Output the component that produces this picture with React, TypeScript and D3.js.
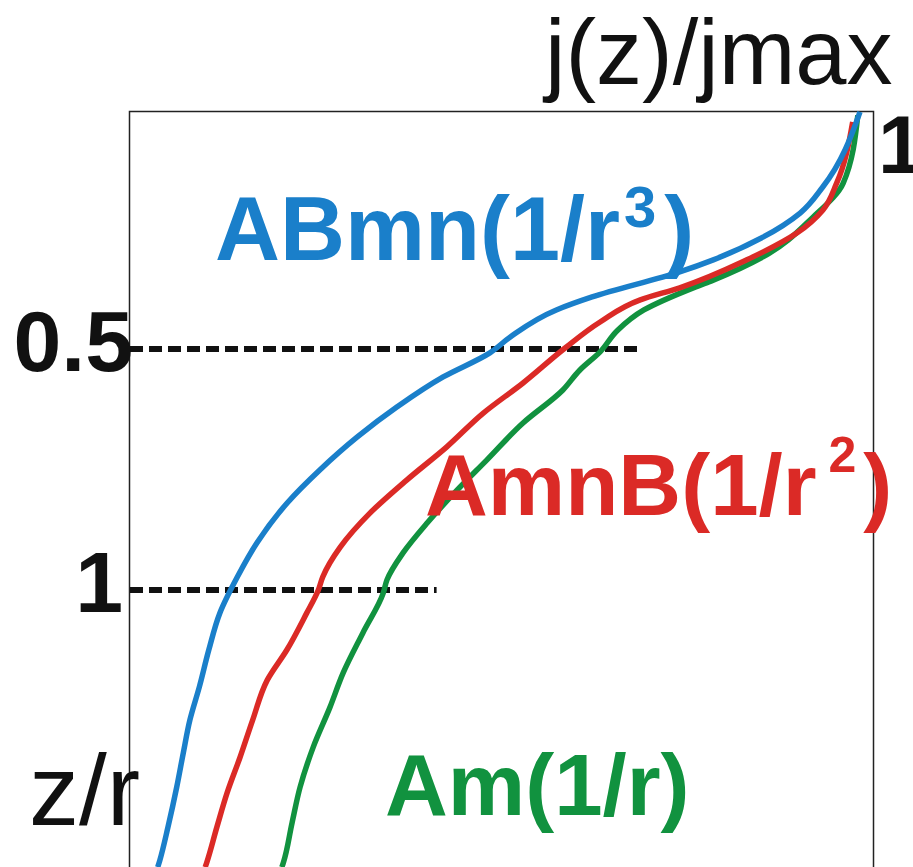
import React, { useEffect, useRef } from "react";
import * as d3 from "d3";

// depth z/r (top = 0) and normalised current j/jmax
const blueZ = [0.008, 0.164, 0.218, 0.268, 0.315, 0.34, 0.392, 0.419, 0.475, 0.508, 0.558, 0.62, 0.683, 0.751, 0.82, 0.902, 0.973, 1.048, 1.124, 1.201, 1.27, 1.338, 1.409, 1.492, 1.56, 1.575];
const blueJ = [1.0, 0.949, 0.918, 0.867, 0.799, 0.753, 0.633, 0.584, 0.521, 0.493, 0.429, 0.366, 0.311, 0.26, 0.215, 0.174, 0.147, 0.123, 0.108, 0.095, 0.082, 0.073, 0.064, 0.052, 0.041, 0.038];

const redZ = [0.029, 0.156, 0.212, 0.259, 0.315, 0.373, 0.398, 0.444, 0.498, 0.571, 0.633, 0.703, 0.772, 0.84, 0.911, 0.973, 1.0, 1.048, 1.124, 1.187, 1.27, 1.346, 1.421, 1.492, 1.566, 1.575];
const redJ = [0.99, 0.968, 0.949, 0.914, 0.845, 0.753, 0.699, 0.644, 0.596, 0.538, 0.484, 0.434, 0.379, 0.329, 0.288, 0.264, 0.258, 0.242, 0.215, 0.188, 0.168, 0.151, 0.133, 0.119, 0.105, 0.103];

const greenZ = [0.015, 0.156, 0.226, 0.309, 0.357, 0.371, 0.419, 0.461, 0.506, 0.544, 0.585, 0.654, 0.73, 0.793, 0.861, 0.923, 0.979, 1.006, 1.089, 1.172, 1.243, 1.326, 1.409, 1.483, 1.566, 1.575];
const greenJ = [0.997, 0.977, 0.936, 0.867, 0.799, 0.775, 0.704, 0.668, 0.644, 0.616, 0.593, 0.538, 0.489, 0.448, 0.407, 0.374, 0.352, 0.347, 0.319, 0.292, 0.274, 0.251, 0.233, 0.222, 0.21, 0.208];

// reference depths marked with dashed lines, and how far (in j) each dash runs
const refDepths = [0.5, 1];
const refLabels = ["0.5", "1"];
const refReach = [0.7, 0.42];

const BLUE = "#1a7fca";
const RED = "#db2a26";
const GREEN = "#11923f";
const FONT = "'Liberation Sans', Arial, sans-serif";

const App = () => {
  const svgRef = useRef(null);

  useEffect(() => {
    const svg = d3.select(svgRef.current);
    svg.selectAll("*").remove();

    const x = d3.scaleLinear().domain([0, 1]).range([130, 860]);
    const y = d3.scaleLinear().domain([0, 1]).range([108, 590]);

    // frame
    svg
      .append("rect")
      .attr("x", 129.5)
      .attr("y", 111.5)
      .attr("width", 744)
      .attr("height", 800)
      .attr("fill", "none")
      .attr("stroke", "#222")
      .attr("stroke-width", 1.5);

    // dashed reference lines
    refDepths.forEach((d, i) => {
      svg
        .append("line")
        .attr("x1", x(0))
        .attr("x2", x(refReach[i]))
        .attr("y1", y(d))
        .attr("y2", y(d))
        .attr("stroke", "#111")
        .attr("stroke-width", 6)
        .attr("stroke-dasharray", "13,6");
    });

    const line = d3
      .line()
      .x((d) => x(d[1]))
      .y((d) => y(d[0]))
      .curve(d3.curveMonotoneY);

    const series = [
      { z: greenZ, j: greenJ, color: GREEN },
      { z: redZ, j: redJ, color: RED },
      { z: blueZ, j: blueJ, color: BLUE },
    ];
    series.forEach((s) => {
      svg
        .append("path")
        .attr("d", line(s.z.map((z, i) => [z, s.j[i]])))
        .attr("fill", "none")
        .attr("stroke", s.color)
        .attr("stroke-width", 5.5)
        .attr("stroke-linejoin", "round");
    });

    // axis labels
    svg
      .append("text")
      .attr("x", 545)
      .attr("y", 84)
      .style("font-family", FONT)
      .style("font-size", "92px")
      .style("fill", "#111")
      .text("j(z)/jmax");

    svg
      .append("text")
      .attr("x", 29)
      .attr("y", 825)
      .style("font-family", FONT)
      .style("font-size", "100px")
      .style("fill", "#111")
      .text("z/r");

    // tick labels
    refDepths.forEach((d, i) => {
      svg
        .append("text")
        .attr("x", refLabels[i] === "1" ? 123 : 133)
        .attr("y", y(d) + 22)
        .attr("text-anchor", "end")
        .style("font-family", FONT)
        .style("font-weight", "bold")
        .style("font-size", "86px")
        .style("fill", "#111")
        .text(refLabels[i]);
    });

    svg
      .append("text")
      .attr("x", x(1) + 18)
      .attr("y", 173)
      .style("font-family", FONT)
      .style("font-weight", "bold")
      .style("font-size", "82px")
      .style("fill", "#111")
      .text("1");

    // curve labels
    const blueLabel = svg
      .append("text")
      .attr("x", 215)
      .attr("y", 260)
      .style("font-family", FONT)
      .style("font-weight", "bold")
      .style("font-size", "90px")
      .style("fill", BLUE);
    blueLabel.append("tspan").text("ABmn(1/r");
    blueLabel.append("tspan").attr("dx", 4).attr("dy", -33).style("font-size", "58px").text("3");
    blueLabel.append("tspan").attr("dx", 8).attr("dy", 33).text(")");

    const redLabel = svg
      .append("text")
      .attr("x", 425)
      .attr("y", 515)
      .style("font-family", FONT)
      .style("font-weight", "bold")
      .style("font-size", "87px")
      .style("fill", RED);
    redLabel.append("tspan").text("AmnB(1/r");
    redLabel.append("tspan").attr("dx", 12).attr("dy", -43).style("font-size", "50px").text("2");
    redLabel.append("tspan").attr("dx", 7).attr("dy", 43).text(")");

    svg
      .append("text")
      .attr("x", 385)
      .attr("y", 815)
      .style("font-family", FONT)
      .style("font-weight", "bold")
      .style("font-size", "87px")
      .style("fill", GREEN)
      .text("Am(1/r)");
  }, []);

  return (
    <svg
      ref={svgRef}
      width={913}
      height={867}
      style={{ position: "absolute", left: 0, top: 0, background: "#fff" }}
    />
  );
};

export default App;
